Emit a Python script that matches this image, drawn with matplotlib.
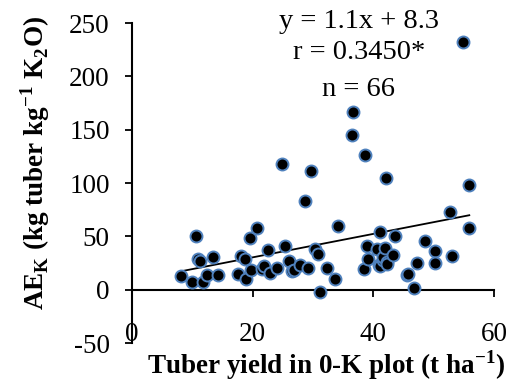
import numpy as np
import matplotlib.pyplot as plt

plt.rcParams['font.family'] = 'Liberation Serif'
plt.rcParams['mathtext.fontset'] = 'custom'
plt.rcParams['mathtext.rm'] = 'Liberation Serif'
plt.rcParams['mathtext.bf'] = 'Liberation Serif:bold'
plt.rcParams['axes.unicode_minus'] = False

# tuber yield in 0-K plot (t/ha) and agronomic efficiency of K
yield_0k = [8.2, 9.9, 10.6, 11.0, 11.3, 11.7, 12.4, 13.5, 14.2, 17.6,
            18.0, 18.7, 18.9, 19.6, 19.8, 20.7, 21.5, 21.8, 22.6, 22.8,
            24.0, 24.9, 25.3, 26.0, 26.5, 26.8, 27.9, 28.7, 29.1, 29.7,
            30.3, 30.9, 31.1, 32.4, 33.7, 34.1, 36.5, 36.7, 38.5, 38.6,
            38.9, 39.1, 40.6, 40.9, 41.1, 41.1, 41.6, 41.6, 42.0, 42.1,
            42.2, 42.3, 43.3, 43.6, 45.5, 45.8, 46.7, 47.3, 48.6, 50.2,
            50.2, 52.7, 53.0, 54.8, 55.8, 55.9]
ae_k = [13, 6.9, 50.6, 28.7, 26.6, 6.9, 13.4, 30.6, 13.4, 15,
        31.9, 28.7, 10, 48.4, 18.1, 57.8, 19.4, 22.5, 36.9, 15.6,
        20.3, 118.1, 40.6, 26.6, 17.2, 18.1, 23.4, 82.8, 20.3, 111.6,
        38.2, 33.7, -2.5, 20.3, 10, 59.4, 144.7, 166.2, 19.4, 126.3,
        41.2, 28.7, 38.2, 23.4, 22.5, 53.7, 28.1, 30.7, 39.1, 104.4,
        25.6, 24.4, 32.8, 50, 14, 15, 1.6, 25, 45.9, 35.9,
        25, 72.5, 31.9, 232.2, 98.4, 57.8]
slope, intercept = 1.1, 8.3
stats = ["y = 1.1x + 8.3", "r = 0.3450*", "n = 66"]

fig = plt.figure(figsize=(5.16, 3.9), dpi=100)
ax = fig.add_axes([0.2558, 0.1205, 0.7016, 0.8205])

ax.scatter(yield_0k, ae_k, s=74, c='black', edgecolors='#4F81BD',
           linewidths=1.4, zorder=3)
xl = np.array([min(yield_0k), max(yield_0k)])
ax.plot(xl, slope * xl + intercept, color='black', lw=1.3, zorder=2)

ax.set_xlim(0, 60)
ax.set_ylim(-50, 250)
ax.set_xticks([0, 20, 40, 60])
ax.set_yticks([-50, 0, 50, 100, 150, 200, 250])
ax.spines['top'].set_visible(False)
ax.spines['right'].set_visible(False)
ax.spines['bottom'].set_position(('data', 0))
ax.spines['left'].set_linewidth(1.5)
ax.spines['bottom'].set_linewidth(1.5)
ax.tick_params(axis='both', direction='out', length=5, width=1.3,
               labelsize=19.5, colors='black')
ax.tick_params(axis='x', pad=18)
ax.tick_params(axis='y', pad=11)

for i, s in enumerate(stats):
    ax.text(37.6, [251, 222, 188][i], s, ha='center', va='center',
            fontsize=20.5)

fig.text(0.632, 0.064, r'Tuber yield in 0-K plot (t ha$^{\mathbf{-1}}$)',
         ha='center', va='center', fontsize=19.5, fontweight='bold')
fig.text(0.068, 0.582, r'AE$_{\mathbf{K}}$ (kg tuber kg$^{\mathbf{-1}}$ K$_{\mathbf{2}}$O)',
         ha='center', va='center', rotation=90, fontsize=19.5,
         fontweight='bold')

plt.savefig('out.png', dpi=100)
